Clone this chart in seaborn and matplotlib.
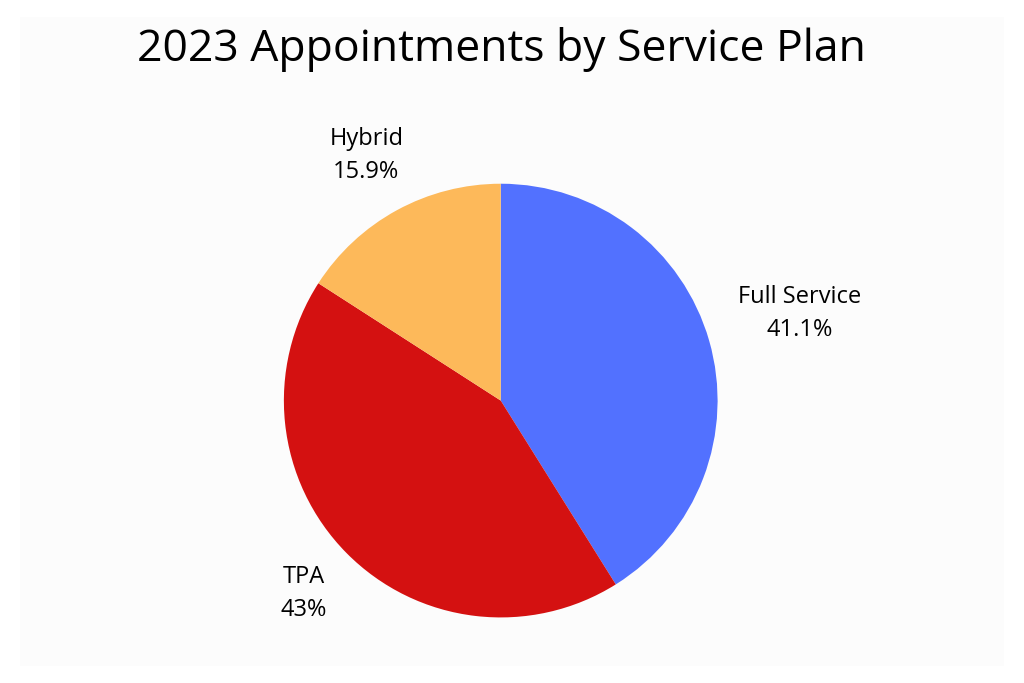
import matplotlib
matplotlib.use('Agg')
import matplotlib.pyplot as plt
import seaborn as sns
from matplotlib.patches import Rectangle

plans = ['Full Service', 'TPA', 'Hybrid']
shares = [41.1, 43.0, 15.9]
share_labels = ['41.1%', '43%', '15.9%']
colors = ['#5271FF', '#D41111', '#FDB95A']

sns.set_theme(style='white')
plt.rcParams['font.family'] = ['Open Sans', 'DejaVu Sans']

fig = plt.figure(figsize=(10.24, 6.83), dpi=100)
fig.patch.set_facecolor('white')
fig.patches.append(Rectangle((0.02, 0.025), 0.96, 0.95, transform=fig.transFigure,
                             facecolor='#FCFCFC', edgecolor='none', zorder=-1))

ax = fig.add_axes([0.277, 0.096, 0.424, 0.635])
ax.pie(shares, colors=colors, startangle=90, counterclock=False,
       wedgeprops=dict(linewidth=0))

# label positions in pie-radius units
label_pos = {'Full Service': (1.38, 0.40), 'TPA': (-0.91, -0.89), 'Hybrid': (-0.62, 1.13)}
for name, lab in zip(plans, share_labels):
    x, y = label_pos[name]
    ax.text(x, y, f'{name}\n{lab}', ha='center', va='center', fontsize=17,
            linespacing=1.5, color='black', clip_on=False)

ax.set_xlim(-1, 1)
ax.set_ylim(-1, 1)
ax.set_aspect('equal')
ax.axis('off')

fig.text(0.49, 0.927, '2023 Appointments by Service Plan', ha='center', va='center',
         fontsize=32, color='black')

fig.savefig('out.png', dpi=100, facecolor=fig.get_facecolor())
